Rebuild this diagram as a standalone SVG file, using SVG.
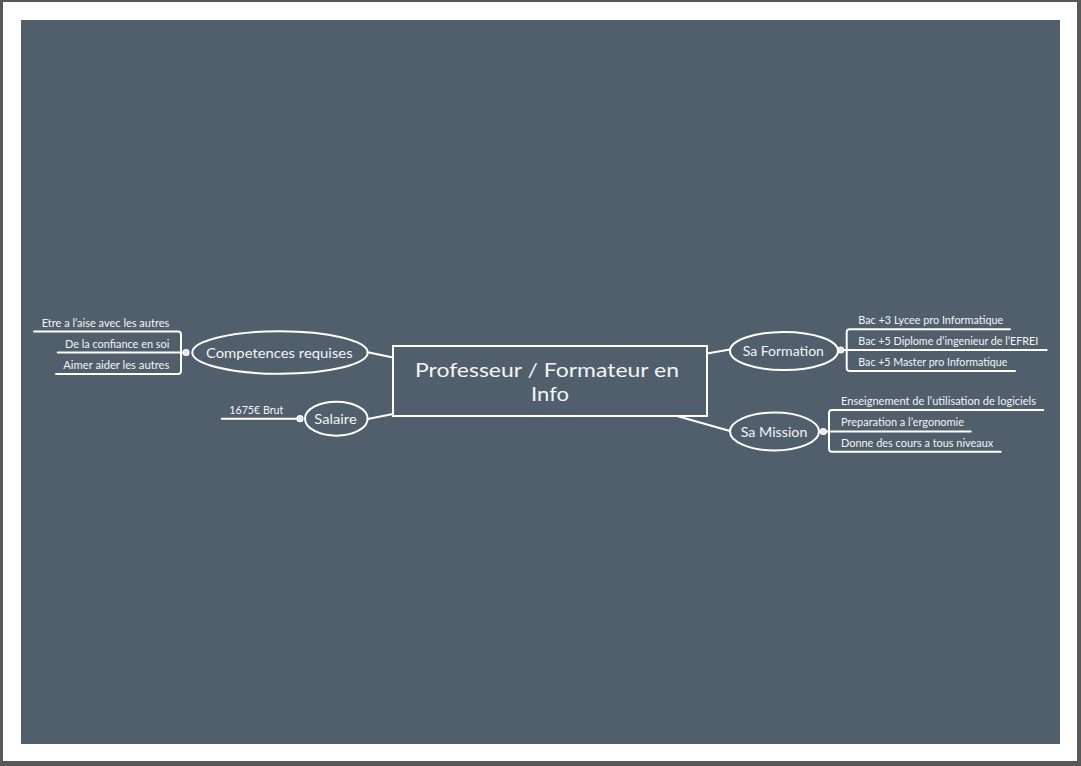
<svg xmlns="http://www.w3.org/2000/svg" width="1081" height="766" viewBox="0 0 1081 766">
<style>
.ln{fill:none;stroke:#ffffff;stroke-width:2;stroke-linecap:round;stroke-linejoin:round}
.shape{fill:none;stroke:#ffffff;stroke-width:2}
.dot{fill:#e4e8ee;stroke:#ffffff;stroke-width:1.2}
.t{font-family:Lato,"Open Sans","Liberation Sans",sans-serif;fill:#f3f4f6}
.big{font-size:20px;text-anchor:middle}
.mid{font-size:14px;text-anchor:middle}
.sm{font-size:11px}
.r{text-anchor:end}
</style>
<rect x="0" y="0" width="1081" height="766" fill="#585858"/>
<rect x="3" y="2" width="1074" height="759" fill="#ffffff"/>
<rect x="21" y="20" width="1039" height="724" fill="#505f6b"/>
<g id="connectors">
<path class="ln" d="M367.7,352.3 L393,357.5"/>
<path class="ln" d="M367.7,419 L393,414"/>
<path class="ln" d="M707,353.5 L730,349.5"/>
<path class="ln" d="M677,416 L730,431"/>
<path class="ln" d="M34,331.5 H178 Q181,331.5 181,334.5 V371 Q181,374 178,374 H56"/>
<path class="ln" d="M57.7,352.5 H186"/>
<path class="ln" d="M221.7,418.7 H300"/>
<path class="ln" d="M1010,329.3 H849.7 Q846.7,329.3 846.7,332.3 V368 Q846.7,371 849.7,371 H1015"/>
<path class="ln" d="M840.7,350 H1046.7"/>
<path class="ln" d="M1043.3,410 H832 Q829,410 829,413 V448.7 Q829,451.7 832,451.7 H1000.7"/>
<path class="ln" d="M823.3,431.5 H970.7"/>
<circle class="dot" cx="186" cy="352.5" r="3"/>
<circle class="dot" cx="300" cy="418.7" r="3"/>
<circle class="dot" cx="840.7" cy="350" r="3"/>
<circle class="dot" cx="823.3" cy="431.5" r="3"/>
</g>
<g id="central">
<rect class="shape" x="393" y="346" width="314" height="70"/>
<text class="t big" x="547" y="377" textLength="264" lengthAdjust="spacingAndGlyphs">Professeur / Formateur en</text>
<text class="t big" x="550" y="401" textLength="38" lengthAdjust="spacingAndGlyphs">Info</text>
</g>
<g id="competences">
<ellipse class="shape" cx="280" cy="352.5" rx="87.7" ry="21.3"/>
<text class="t mid" x="279.3" y="358" textLength="146.7" lengthAdjust="spacingAndGlyphs">Competences requises</text>
</g>
<g id="salaire">
<ellipse class="shape" cx="336.3" cy="418.7" rx="31.3" ry="17"/>
<text class="t mid" x="335.5" y="424" textLength="42.3" lengthAdjust="spacingAndGlyphs">Salaire</text>
</g>
<g id="formation">
<ellipse class="shape" cx="784" cy="351" rx="54" ry="19"/>
<text class="t mid" x="783.3" y="356" textLength="81.3" lengthAdjust="spacingAndGlyphs">Sa Formation</text>
</g>
<g id="mission">
<ellipse class="shape" cx="774.5" cy="431.5" rx="44.5" ry="19"/>
<text class="t mid" x="774" y="436.5" textLength="66.7" lengthAdjust="spacingAndGlyphs">Sa Mission</text>
</g>
<g id="comp1"><text class="t sm r" x="169.3" y="327" textLength="127.6" lengthAdjust="spacingAndGlyphs">Etre a l’aise avec les autres</text></g>
<g id="comp2"><text class="t sm r" x="169.3" y="348" textLength="104.3" lengthAdjust="spacingAndGlyphs">De la confiance en soi</text></g>
<g id="comp3"><text class="t sm r" x="169.3" y="369" textLength="106" lengthAdjust="spacingAndGlyphs">Aimer aider les autres</text></g>
<g id="sal1"><text class="t sm r" x="283.3" y="413.5" textLength="54" lengthAdjust="spacingAndGlyphs">1675€ Brut</text></g>
<g id="form1"><text class="t sm" x="858.3" y="324" textLength="145" lengthAdjust="spacingAndGlyphs">Bac +3 Lycee pro Informatique</text></g>
<g id="form2"><text class="t sm" x="858.3" y="345" textLength="180" lengthAdjust="spacingAndGlyphs">Bac +5 Diplome d’ingenieur de l’EFREI</text></g>
<g id="form3"><text class="t sm" x="858.3" y="366" textLength="149" lengthAdjust="spacingAndGlyphs">Bac +5 Master pro Informatique</text></g>
<g id="miss1"><text class="t sm" x="841" y="405" textLength="195" lengthAdjust="spacingAndGlyphs">Enseignement de l’utilisation de logiciels</text></g>
<g id="miss2"><text class="t sm" x="841" y="426" textLength="123" lengthAdjust="spacingAndGlyphs">Preparation a l’ergonomie</text></g>
<g id="miss3"><text class="t sm" x="841" y="447" textLength="152.3" lengthAdjust="spacingAndGlyphs">Donne des cours a tous niveaux</text></g>
</svg>
